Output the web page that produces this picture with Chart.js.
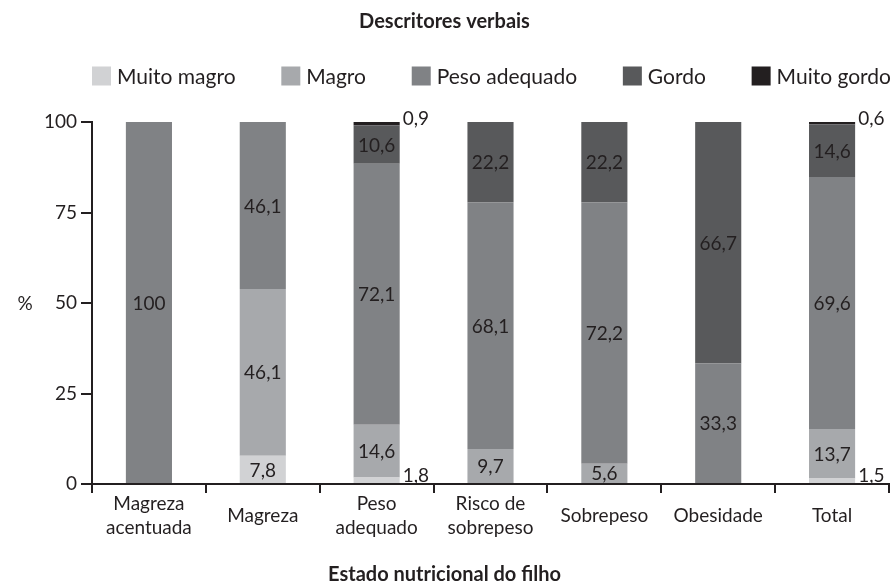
<!DOCTYPE html>
<html>
<head>
<meta charset="utf-8">
<script src="https://cdn.jsdelivr.net/npm/chart.js@4.4.1/dist/chart.umd.min.js"></script>
<style>
  html, body { margin: 0; padding: 0; background: #fff; }
  #wrap { width: 894px; height: 585px; }
</style>
</head>
<body>
<div id="wrap"><canvas id="nutriChart"></canvas></div>
<script>
// Data (% per nutritional state of the child)
const categories = [['Magreza', 'acentuada'], 'Magreza', ['Peso', 'adequado'], ['Risco de', 'sobrepeso'], 'Sobrepeso', 'Obesidade', 'Total'];
const seriesNames = ['Muito magro', 'Magro', 'Peso adequado', 'Gordo', 'Muito gordo'];
const muitoMagro = [0, 7.8, 1.8, 0, 0, 0, 1.5];
const magro = [0, 46.1, 14.6, 9.7, 5.6, 0, 13.7];
const pesoAdequado = [100, 46.1, 72.1, 68.1, 72.2, 33.3, 69.6];
const gordo = [0, 0, 10.6, 22.2, 22.2, 66.7, 14.6];
const muitoGordo = [0, 0, 0.9, 0, 0, 0, 0.6];
const yTicks = [0, 25, 50, 75, 100];

const colors = ['#d1d2d4', '#a7a9ac', '#808285', '#58595b', '#231f20'];
const ink = '#231f20';
const fontFamily = 'Lato, "Open Sans", sans-serif';

// value labels inside the bars, tiny ones to the right of the bar
const valueLabels = {
  id: 'valueLabels',
  afterDatasetsDraw(chart) {
    const ctx = chart.ctx;
    ctx.save();
    ctx.font = '19px ' + fontFamily;
    ctx.fillStyle = ink;
    chart.data.datasets.forEach((ds, i) => {
      const meta = chart.getDatasetMeta(i);
      meta.data.forEach((bar, j) => {
        const v = ds.data[j];
        if (!v) return;
        const txt = String(v).replace('.', ',');
        const mid = (bar.y + bar.base) / 2;
        if (v < 3) {
          ctx.textAlign = 'left';
          ctx.textBaseline = 'alphabetic';
          ctx.fillText(txt, bar.x + bar.width / 2 + 3, mid + 1.5);
        } else {
          ctx.textAlign = 'center';
          ctx.textBaseline = 'middle';
          ctx.fillText(txt, bar.x, mid + 1);
        }
      });
    });
    ctx.restore();
  }
};

// legend row spread over the width of the plot, plus the "%" beside the 50 tick
const boxLegend = {
  id: 'boxLegend',
  afterDraw(chart) {
    const { ctx, chartArea } = chart;
    const box = 19, gap = 6;
    ctx.save();
    ctx.font = '21px ' + fontFamily;
    const items = chart.data.datasets.map(ds => ({
      text: ds.label,
      color: ds.backgroundColor,
      w: box + gap + ctx.measureText(ds.label).width
    }));
    const total = items.reduce((s, it) => s + it.w, 0);
    const space = (chartArea.right + 2 - chartArea.left - total) / (items.length - 1);
    const y = chartArea.top - 46;
    let x = chartArea.left;
    ctx.textAlign = 'left';
    ctx.textBaseline = 'middle';
    items.forEach(it => {
      ctx.fillStyle = it.color;
      ctx.fillRect(x, y - box / 2, box, box);
      ctx.fillStyle = ink;
      ctx.fillText(it.text, x + box + gap, y + 1);
      x += it.w + space;
    });

    ctx.font = '19px ' + fontFamily;
    ctx.textAlign = 'center';
    ctx.fillText('%', 25, chart.scales.y.getPixelForValue(50) + 1);
    ctx.restore();
  }
};

const ctx1 = document.getElementById('nutriChart').getContext('2d');
const nutriChart = new Chart(ctx1, {
  type: 'bar',
  data: {
    labels: categories,
    datasets: [muitoMagro, magro, pesoAdequado, gordo, muitoGordo].map((d, i) => ({
      label: seriesNames[i],
      data: d,
      backgroundColor: colors[i],
      borderWidth: 0,
      barPercentage: 0.405,
      categoryPercentage: 1
    }))
  },
  options: {
    responsive: true,
    maintainAspectRatio: false,
    animation: false,
    layout: { padding: { left: 0, right: 5, top: 0, bottom: 0 } },
    scales: {
      x: {
        stacked: true,
        afterFit: (scale) => { scale.height = 59; },
        grid: { offset: true, drawOnChartArea: false, drawTicks: true, tickLength: 9, color: ink, lineWidth: 2 },
        border: { display: true, color: ink, width: 2 },
        ticks: {
          color: ink,
          font: { family: fontFamily, size: 19, lineHeight: 1.26 },
          padding: 11,
          maxRotation: 0,
          autoSkip: false,
          crossAlign: 'center'
        }
      },
      y: {
        stacked: true,
        min: 0,
        max: 100,
        afterFit: (scale) => { scale.width = 92; },
        afterBuildTicks: (scale) => { scale.ticks = yTicks.map(v => ({ value: v })); },
        grid: { drawOnChartArea: false, drawTicks: true, tickLength: 11, color: ink, lineWidth: 2 },
        border: { display: true, color: ink, width: 2 },
        ticks: {
          color: ink,
          font: { family: fontFamily, size: 19 },
          padding: 4
        }
      }
    },
    plugins: {
      legend: { display: false },
      title: {
        display: true,
        text: 'Descritores verbais',
        color: ink,
        font: { family: fontFamily, size: 20, weight: 'bold' },
        padding: { top: 10, bottom: 88 }
      },
      subtitle: {
        display: true,
        position: 'bottom',
        text: 'Estado nutricional do filho',
        color: ink,
        font: { family: fontFamily, size: 20, weight: 'bold' },
        padding: { top: 20, bottom: -2 }
      },
      tooltip: { enabled: false }
    }
  },
  plugins: [valueLabels, boxLegend]
});
</script>
</body>
</html>
